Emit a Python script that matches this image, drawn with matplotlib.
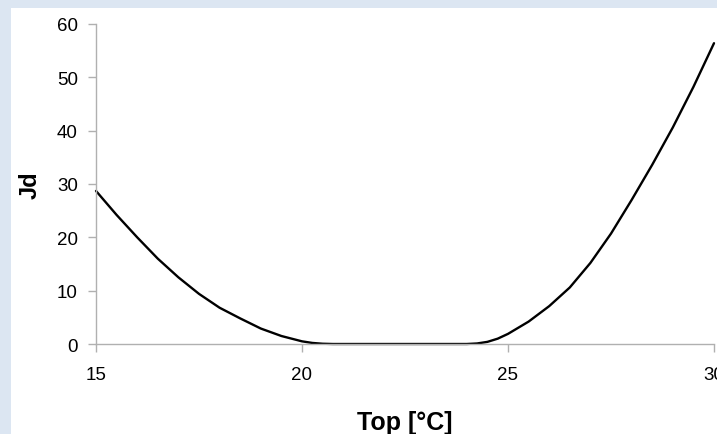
import matplotlib
matplotlib.use("Agg")
import matplotlib.pyplot as plt
from matplotlib.patches import Rectangle

# Operative temperature [°C] and discomfort index Jd
top = [15.0, 15.5, 16.0, 16.5, 17.0, 17.5, 18.0, 18.5, 19.0, 19.5, 20.0,
       20.25, 20.5, 20.75, 21.0, 22.0, 23.0, 24.0, 24.25, 24.5, 24.75,
       25.0, 25.5, 26.0, 26.5, 27.0, 27.5, 28.0, 28.5, 29.0, 29.5, 30.0]
jd = [28.7, 24.2, 20.0, 16.0, 12.5, 9.4, 6.8, 4.8, 2.9, 1.5, 0.5,
      0.2, 0.05, 0.0, 0.0, 0.0, 0.0, 0.0, 0.1, 0.4, 1.0,
      1.9, 4.2, 7.1, 10.6, 15.2, 20.7, 27.0, 33.6, 40.6, 48.2, 56.4]

x_ticks = [15, 20, 25, 30]
y_ticks = [0, 10, 20, 30, 40, 50, 60]

plt.rcParams["font.family"] = ["Liberation Sans", "DejaVu Sans"]

W, H = 717, 435
fig = plt.figure(figsize=(W / 100, H / 100), dpi=100, facecolor="#dce6f2")
panel = Rectangle((11 / W, 0), 1, (H - 9) / H, transform=fig.transFigure,
                  facecolor="white", edgecolor="none", zorder=-10)
fig.add_artist(panel)

ax = fig.add_axes([96 / W, 1 - 345 / H, (714 - 96) / W, (345 - 25) / H])
ax.set_zorder(1)
ax.set_facecolor("white")
ax.plot(top, jd, color="black", lw=1.7, solid_capstyle="round",
        solid_joinstyle="round", clip_on=False)

ax.set_xlim(15, 30)
ax.set_ylim(0, 60)
ax.set_xticks(x_ticks)
ax.set_yticks(y_ticks)

for s in ("top", "right"):
    ax.spines[s].set_visible(False)
for s in ("left", "bottom"):
    ax.spines[s].set_color("#b0b0b0")
    ax.spines[s].set_linewidth(1.0)

ax.tick_params(axis="both", direction="out", length=6, width=1.0, color="#b0b0b0",
               labelsize=13.5, labelcolor="black")
ax.tick_params(axis="y", pad=7)
ax.tick_params(axis="x", pad=10)

ax.set_xlabel("Top [°C]", fontsize=18, fontweight="bold", labelpad=19)
ax.set_ylabel("Jd", fontsize=17, fontweight="bold", labelpad=11)

fig.savefig("out.png", dpi=100, facecolor=fig.get_facecolor())
